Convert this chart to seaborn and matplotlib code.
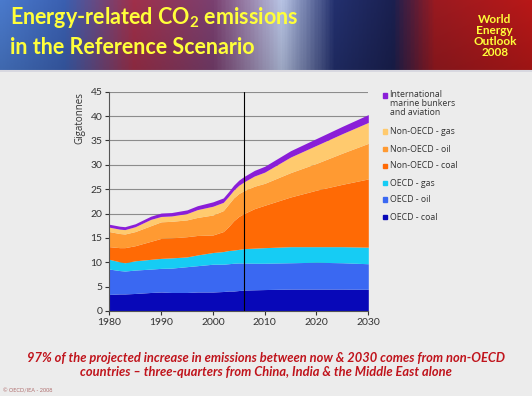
import numpy as np
import matplotlib
matplotlib.use("Agg")
import matplotlib.pyplot as plt
from matplotlib.colors import LinearSegmentedColormap
from matplotlib.patches import Rectangle
import seaborn as sns

# Gigatonnes of CO2 per layer
years = [1980, 1982, 1983, 1985, 1988, 1990, 1992, 1995, 1997, 2000, 2002,
         2003, 2004, 2005, 2006, 2008, 2010, 2015, 2020, 2025, 2030]
oecd_coal = [3.4, 3.5, 3.5, 3.6, 3.8, 3.9, 3.8, 3.8, 3.9, 3.9, 4.0,
             4.1, 4.1, 4.2, 4.3, 4.35, 4.4, 4.5, 4.5, 4.5, 4.45]
oecd_oil = [5.2, 4.8, 4.7, 4.8, 4.8, 4.85, 5.0, 5.3, 5.4, 5.7, 5.6,
            5.6, 5.7, 5.65, 5.55, 5.45, 5.4, 5.4, 5.5, 5.4, 5.25]
oecd_gas = [2.0, 1.8, 1.7, 1.9, 2.0, 2.05, 2.1, 2.0, 2.2, 2.4, 2.6,
            2.7, 2.7, 2.8, 2.95, 3.1, 3.2, 3.3, 3.2, 3.3, 3.4]
non_oecd_coal = [2.6, 2.9, 3.1, 3.1, 3.7, 4.1, 4.1, 4.15, 4.0, 3.6, 4.1,
                 4.9, 6.0, 6.75, 7.2, 8.1, 8.7, 10.2, 11.6, 12.8, 14.0]
non_oecd_oil = [3.1, 2.9, 2.8, 2.9, 3.2, 3.4, 3.4, 3.45, 3.7, 4.1, 4.3,
                4.6, 4.7, 4.7, 4.7, 4.6, 4.5, 5.0, 5.5, 6.4, 7.3]
non_oecd_gas = [0.9, 0.9, 0.9, 1.0, 1.3, 1.1, 1.1, 1.3, 1.6, 1.8, 1.7,
                1.6, 1.6, 1.7, 1.8, 2.1, 2.3, 3.2, 3.7, 4.0, 4.3]
bunkers = [0.6, 0.6, 0.6, 0.6, 0.65, 0.7, 0.7, 0.75, 0.8, 0.9, 0.9,
           0.95, 1.0, 1.05, 1.1, 1.15, 1.2, 1.3, 1.4, 1.5, 1.6]

labels = ["OECD - coal", "OECD - oil", "OECD - gas", "Non-OECD - coal",
          "Non-OECD - oil", "Non-OECD - gas",
          "International\nmarine bunkers\nand aviation"]
colors = ["#0808B8", "#3A68F2", "#16CCF4", "#FF6A05", "#FF9A32",
          "#FFCA6E", "#8A1ED8"]
base_year = 2006

W, H = 532, 396
bg = "#ECECEC"

sns.set_theme(style="white")
plt.rcParams["font.family"] = ["Lato", "DejaVu Sans"]

fig = plt.figure(figsize=(W / 100, H / 100), dpi=100)
fig.patch.set_facecolor(bg)

#  Header banner
hax = fig.add_axes([0, 1 - 72 / H, 1, 72 / H])
cmap = LinearSegmentedColormap.from_list("banner", [
    (0.0, "#4A7ACC"), (0.12, "#3A5FB0"), (0.25, "#A0304A"),
    (0.4, "#7A4070"), (0.53, "#B8C4E4"), (0.63, "#23306E"),
    (0.74, "#1A2050"), (0.82, "#9A1A20"), (1.0, "#B81818")])
gx = np.linspace(0, 1, 400)
img = cmap(gx)[None, :, :3] * np.linspace(1.0, 0.85, 60)[:, None, None]
hax.imshow(img, aspect="auto", extent=[0, 1, 0, 1])
hax.axhline(0.02, color="#D8D8E0", linewidth=1.5)
hax.axis("off")

hax.text(0.018, 0.76, r"Energy-related CO$\mathregular{_2}$ emissions",
         color="#FFFF3A", fontsize=15.5, fontweight="bold", va="center",
         transform=hax.transAxes)
hax.text(0.018, 0.34, "in the Reference Scenario", color="#FFFF3A",
         fontsize=15.5, fontweight="bold", va="center",
         transform=hax.transAxes)
hax.text(0.93, 0.5, "World\nEnergy\nOutlook\n2008", color="#FFFF3A",
         fontsize=8.5, fontweight="bold", ha="center", va="center",
         linespacing=1.0, transform=hax.transAxes)

#  Stacked area chart
ax = fig.add_axes([109.3 / W, 1 - 311 / H, 259 / W, 219.3 / H])
ax.set_facecolor(bg)
ax.stackplot(years, oecd_coal, oecd_oil, oecd_gas, non_oecd_coal,
             non_oecd_oil, non_oecd_gas, bunkers, colors=colors,
             linewidth=0)
ax.axvline(base_year, color="black", linewidth=0.8)

ax.set_xlim(1980, 2030)
ax.set_ylim(0, 45)
ax.set_xticks(range(1980, 2031, 10))
ax.set_yticks(range(0, 46, 5))
ax.yaxis.grid(True, color="#8C8C8C", linewidth=0.8)
ax.set_axisbelow(True)
sns.despine(ax=ax)
for side in ["left", "bottom"]:
    ax.spines[side].set_color("#555555")
    ax.spines[side].set_linewidth(0.8)
ax.tick_params(axis="both", labelsize=7.5, colors="#333333", length=3,
               width=0.8, direction="out", pad=2, left=True, bottom=True)
ax.text(-0.113, 1.0, "Gigatonnes", rotation=90, ha="center", va="top",
        fontsize=7, color="#333333", family="Open Sans",
        transform=ax.transAxes)

#  Legend (drawn by hand, first line of each label next to its swatch)
legend_y = [217, 199.5, 183, 166, 149, 131.5, 95.5]
for lab, col, yy in zip(labels, colors, legend_y):
    fig.add_artist(Rectangle((382.5 / W, 1 - (yy + 2.2) / H), 4.4 / W,
                             4.4 / H, color=col, transform=fig.transFigure))
    if "\n" in lab:
        fig.text(389.5 / W, 1 - (yy - 5.3) / H, lab, fontsize=6.3,
                 family="Open Sans", color="#333333", va="top",
                 linespacing=1.02)
    else:
        fig.text(389.5 / W, 1 - yy / H, lab, fontsize=6.3,
                 family="Open Sans", color="#333333", va="center")

#  Footer
fig.text(0.5, 1 - 365 / H,
         "97% of the projected increase in emissions between now & 2030 "
         "comes from non-OECD\ncountries \u2013 three-quarters from China, "
         "India & the Middle East alone",
         ha="center", va="center", color="#C0141C", fontsize=9.3,
         fontstyle="italic", fontweight="bold", linespacing=1.25)
fig.text(3 / W, 1 - 391 / H, "\u00a9 OECD/IEA - 2008", fontsize=4,
         color="#B07070", va="center")

fig.savefig("out.png", dpi=100, facecolor=fig.get_facecolor())
